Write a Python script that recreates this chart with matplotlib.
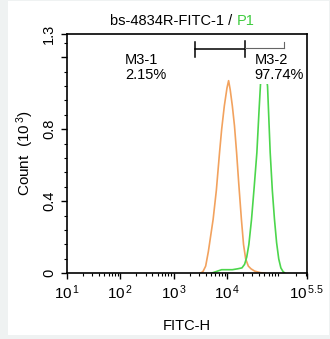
import numpy as np
import matplotlib
matplotlib.use("Agg")
import matplotlib.pyplot as plt
from matplotlib.patches import Rectangle
from matplotlib.ticker import FixedLocator, NullFormatter

plt.rcParams['font.family'] = ['Liberation Sans', 'DejaVu Sans']
plt.rcParams['mathtext.default'] = 'regular'

# ---- data (log10 FITC-H, count in 10^3) ----
orange_logx = [3.50, 3.55, 3.60, 3.65, 3.70, 3.74, 3.80, 3.86, 3.90, 3.95, 4.00, 4.03,
               4.06, 4.10, 4.14, 4.18, 4.22, 4.27, 4.31, 4.35, 4.40, 4.45, 4.52, 4.62, 4.72]
orange_cnt = [0.0, 0.01, 0.04, 0.12, 0.22, 0.30, 0.46, 0.67, 0.80, 0.93, 1.03, 1.07,
              1.02, 0.93, 0.82, 0.67, 0.50, 0.30, 0.16, 0.08, 0.04, 0.025, 0.012, 0.004, 0.0]
green_logx = [3.70, 3.80, 3.90, 4.00, 4.10, 4.20, 4.28, 4.33, 4.37, 4.41, 4.46, 4.51,
              4.56, 4.60, 4.63, 4.66, 4.69, 4.72, 4.76, 4.81, 4.85, 4.89, 4.93, 4.97,
              5.01, 5.05, 5.09]
green_cnt = [0.0, 0.01, 0.02, 0.02, 0.02, 0.025, 0.03, 0.05, 0.09, 0.16, 0.30, 0.48,
             0.67, 0.90, 1.06, 1.13, 1.16, 1.13, 1.04, 0.67, 0.46, 0.30, 0.17, 0.08,
             0.03, 0.01, 0.0]

gate_m31 = (3.40, 4.34)
gate_m32 = (4.34, 5.06)
pct_m31 = "2.15%"
pct_m32 = "97.74%"

xtick_pos = [1, 2, 3, 4, 5.5]
xtick_labels = ["$10^{\\,1}$", "$10^{\\,2}$", "$10^{\\,3}$", "$10^{\\,4}$", "$10^{\\,5.5}$"]
ytick_pos = [0, 0.4, 0.8, 1.2, 1.332]
ytick_labels = ["0", "0.4", "0.8", "", "1.3"]

FS = 10.5

fig = plt.figure(figsize=(3.30, 3.39), dpi=100, facecolor='#eff2f2')
fig.patches.append(Rectangle((8/330, 1-335/339), 321/330, 334/339,
                             transform=fig.transFigure, facecolor='white',
                             edgecolor='none', zorder=-5))
ax = fig.add_axes([67/330, 1-273.3/339, 240/330, 239.8/339])
ax.set_zorder(2)
ax.set_facecolor('white')

ax.plot(10**np.array(orange_logx), orange_cnt, color='#f2a25e', lw=1.2, zorder=2)
ax.plot(10**np.array(green_logx), green_cnt, color='#4cd64c', lw=1.2, zorder=2)

ax.set_xscale('log')
ax.set_xlim(10**1, 10**5.5)
ax.set_ylim(0, 1.332)

ax.xaxis.set_major_locator(FixedLocator([10**p for p in xtick_pos]))
ax.set_xticklabels(xtick_labels)
minors = [m * 10**d for d in range(1, 6) for m in range(2, 10) if m * 10**d < 10**5.5]
ax.xaxis.set_minor_locator(FixedLocator(minors))
ax.xaxis.set_minor_formatter(NullFormatter())

ax.yaxis.set_major_locator(FixedLocator(ytick_pos))
ax.set_yticklabels(ytick_labels)
ax.yaxis.set_minor_locator(FixedLocator(np.arange(0.08, 1.3, 0.08)))

ax.tick_params(axis='both', which='major', length=4, width=1, labelsize=11, direction='out')
ax.tick_params(axis='both', which='minor', length=2, width=0.8, direction='out')
ax.tick_params(axis='y', which='major', labelrotation=90, pad=4, labelsize=10.5)
for lab in ax.get_yticklabels():
    lab.set_va('center')
ax.tick_params(axis='x', which='major', pad=3)

for s in ax.spines.values():
    s.set_linewidth(1.2)

ax.set_xlabel("FITC-H", fontsize=FS)
ax.xaxis.set_label_coords(0.5, (273.3-326)/240)
ax.xaxis.label.set_va('center')
ax.set_ylabel("Count  (10$^{\\,3}$)", fontsize=11)
ax.yaxis.set_label_coords((25-67)/240, 0.5)
ax.yaxis.label.set_va('center')

# gate markers
ax.plot([10**gate_m31[0], 10**gate_m31[1]], [1.244, 1.244], color='black', lw=1.1, zorder=4)
ax.plot([10**gate_m31[0], 10**gate_m31[0]], [1.203, 1.283], color='black', lw=1.1, zorder=4)
ax.plot([10**gate_m31[1], 10**gate_m31[1]], [1.200, 1.290], color='black', lw=1.1, zorder=4)
ax.plot([10**gate_m32[0], 10**gate_m32[1]], [1.253, 1.253], color='#666666', lw=0.8, zorder=4)
ax.plot([10**gate_m32[1], 10**gate_m32[1]], [1.253, 1.287], color='#666666', lw=0.8, zorder=4)

box = dict(facecolor='white', edgecolor='none', pad=1.0)
ax.text(10**2.09, 1.143, "M3-1\n" + pct_m31, fontsize=FS, ha='left', va='center',
        linespacing=1.15, zorder=3)
ax.text(10**4.52, 1.143, "M3-2\n" + pct_m32, fontsize=FS, ha='left', va='center',
        linespacing=1.15, zorder=3, bbox=box)

# title
t1 = fig.text(110/330, 1-21/339, "bs-4834R-FITC-1 / ", fontsize=10.5, ha='left', va='center')
fig.canvas.draw()
bb = t1.get_window_extent()
fig.text(bb.x1 / fig.bbox.width, bb.y0 / fig.bbox.height, "P1", fontsize=10.5,
         color='#3fcc3f', ha='left', va='bottom')

fig.savefig("out.png", dpi=100, facecolor=fig.get_facecolor())
